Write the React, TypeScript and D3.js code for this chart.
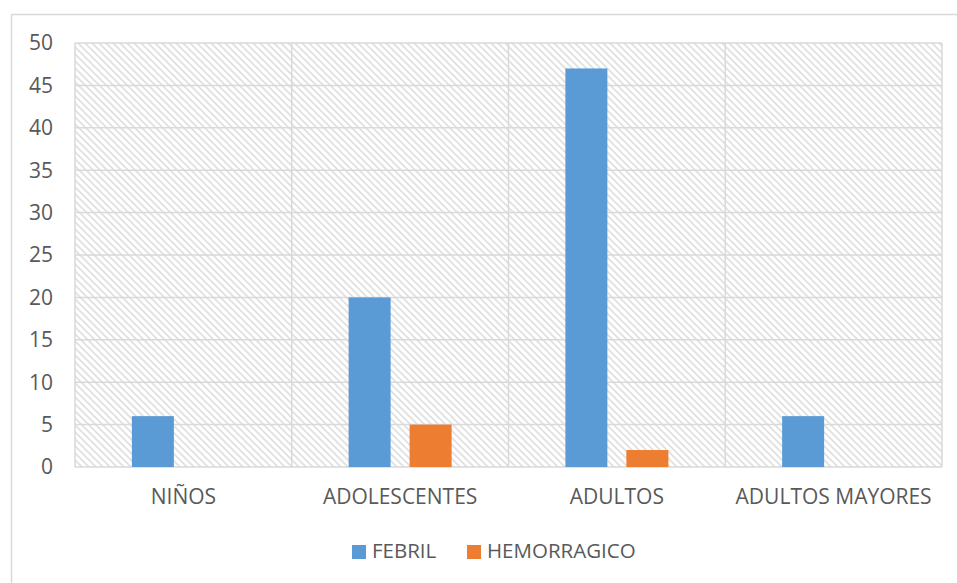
import React from "react";
import * as d3 from "d3";

const categories = ["NIÑOS", "ADOLESCENTES", "ADULTOS", "ADULTOS MAYORES"];
const seriesNames = ["FEBRIL", "HEMORRAGICO"];
const febril = [6, 20, 47, 6];
const hemorragico = [0, 5, 2, 0];
const yTicks = [0, 5, 10, 15, 20, 25, 30, 35, 40, 45, 50];
const colors = ["#5b9bd5", "#ed7d31"];

const W = 957, H = 583;
const left = 75, right = 942, top = 43, bottom = 467;
const font = "Open Sans, Lato, sans-serif";

export default function App() {
  const x = d3.scaleBand<string>().domain(categories).range([left, right]).paddingInner(0).paddingOuter(0);
  const y = d3.scaleLinear().domain([0, 50]).range([bottom, top]);
  const barW = 42, gap = 19;
  const groupW = barW * 2 + gap;
  const data = [febril, hemorragico];
  return (
    <svg width={W} height={H} style={{ position: "absolute", left: 0, top: 0, background: "#fff" }}>
      <defs>
        <pattern id="hatch" width="7" height="7" patternUnits="userSpaceOnUse">
          <rect width="7" height="7" fill="#fff" />
          <path d="M-2,-2 L9,9 M-2,5 L2,9 M5,-2 L9,2" stroke="#e0e0e0" strokeWidth="1.7" />
        </pattern>
      </defs>
      <rect x={11.5} y={14.5} width={960} height={600} fill="#fff" stroke="#d9d9d9" strokeWidth={1.5} />
      <rect x={left} y={top} width={right - left} height={bottom - top} fill="url(#hatch)" />
      {yTicks.map((t) => (
        <line key={"g" + t} x1={left} x2={right} y1={y(t)} y2={y(t)} stroke="#d9d9d9" strokeWidth={1.5} />
      ))}
      {categories.map((c, i) => (
        <line key={"v" + i} x1={x(c)!} x2={x(c)!} y1={top} y2={bottom} stroke="#d9d9d9" strokeWidth={1.5} />
      ))}
      <line x1={right} x2={right} y1={top} y2={bottom} stroke="#d9d9d9" strokeWidth={1.5} />
      {categories.map((c, i) => {
        const start = x(c)! + (x.bandwidth() - groupW) / 2;
        return data.map((s, k) =>
          s[i] > 0 ? (
            <rect key={c + k} x={start + k * (barW + gap)} y={y(s[i])} width={barW} height={bottom - y(s[i])} fill={colors[k]} />
          ) : null
        );
      })}
      {yTicks.map((t) => (
        <text key={"t" + t} x={53} y={y(t)} dy="0.35em" textAnchor="end" fontFamily={font} fontSize={21} fill="#595959">{t}</text>
      ))}
      {categories.map((c) => (
        <text key={"c" + c} x={x(c)! + x.bandwidth() / 2} y={504} textAnchor="middle" fontFamily={font} fontSize={21} fill="#595959">{c}</text>
      ))}
      {seriesNames.map((n, k) => {
        const lx = [352, 467][k];
        return (
          <g key={n}>
            <rect x={lx} y={545} width={14} height={14} fill={colors[k]} />
            <text x={lx + 20} y={558} fontFamily={font} fontSize={20.5} fill="#595959">{n}</text>
          </g>
        );
      })}
    </svg>
  );
}
